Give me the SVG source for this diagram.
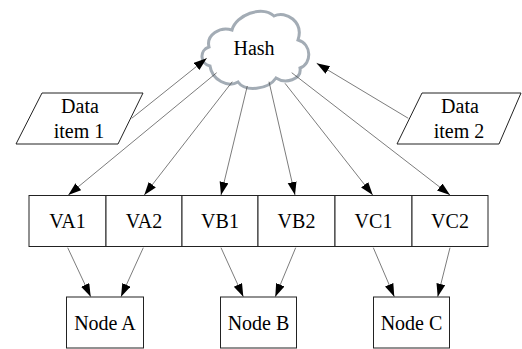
<svg xmlns="http://www.w3.org/2000/svg" width="522" height="349" viewBox="0 0 522 349" font-family="'Liberation Serif', 'DejaVu Serif', serif">
<defs>
<marker id="arr" markerUnits="userSpaceOnUse" markerWidth="14" markerHeight="10" refX="13" refY="4.5" orient="auto">
<path d="M0,0 L13,4.5 L0,9 z" fill="#000"/>
</marker>
<style>
.box{fill:#fff;stroke:#222;stroke-width:1}
.t{font-family:'Liberation Serif','DejaVu Serif',serif;font-size:20px;fill:#000;text-anchor:middle}
.e{fill:none;stroke:#444;stroke-width:0.7;marker-end:url(#arr)}
</style>
</defs>
<rect width="522" height="349" fill="#fff"/>
<g id="hash">
<path d="M210,66 C200,64 199,50 209,47 C206,35 220,26 232,30 C236,15 262,5 274,16 C286,10 304,22 298,40 C312,44 312,64 300,68 C302,80 285,84 276,78 C268,90 245,92 238,82 C228,88 212,80 210,66 Z" fill="#fff" stroke="#a3acb5" stroke-width="3"/>
<text class="t" x="254" y="55">Hash</text>
</g>
<g id="data1">
<polygon class="box" points="42,93 143,93 118,144 16,144"/>
<text class="t" x="80" y="113">Data</text>
<text class="t" x="79" y="138">item 1</text>
</g>
<g id="data2">
<polygon class="box" points="422,93 521,93 499,144 397,144"/>
<text class="t" x="460" y="113">Data</text>
<text class="t" x="459" y="138">item 2</text>
</g>
<g id="VA1"><rect class="box" x="29" y="195.5" width="77" height="51"/><text class="t" x="67.5" y="228">VA1</text></g>
<g id="VA2"><rect class="box" x="106" y="195.5" width="76" height="51"/><text class="t" x="144" y="228">VA2</text></g>
<g id="VB1"><rect class="box" x="182" y="195.5" width="76" height="51"/><text class="t" x="220" y="228">VB1</text></g>
<g id="VB2"><rect class="box" x="258" y="195.5" width="77" height="51"/><text class="t" x="296.5" y="228">VB2</text></g>
<g id="VC1"><rect class="box" x="335" y="195.5" width="77" height="51"/><text class="t" x="373.5" y="228">VC1</text></g>
<g id="VC2"><rect class="box" x="412" y="195.5" width="76" height="51"/><text class="t" x="450" y="228">VC2</text></g>
<g id="nodeA"><rect class="box" x="66.5" y="297" width="77" height="51"/><text class="t" x="105" y="330">Node A</text></g>
<g id="nodeB"><rect class="box" x="220.5" y="297" width="76" height="51"/><text class="t" x="258.5" y="330">Node B</text></g>
<g id="nodeC"><rect class="box" x="373.5" y="297" width="76" height="51"/><text class="t" x="411.5" y="330">Node C</text></g>
<g id="connectors">
<line class="e" x1="131.7" y1="118.3" x2="206.7" y2="58.3"/>
<line class="e" x1="408.3" y1="118.3" x2="316.7" y2="63.3"/>
<line class="e" x1="216.7" y1="72.7" x2="68.3" y2="195"/>
<line class="e" x1="232.3" y1="81.7" x2="144.3" y2="195"/>
<line class="e" x1="247.3" y1="86" x2="221" y2="195"/>
<line class="e" x1="269" y1="81.7" x2="295" y2="195"/>
<line class="e" x1="285" y1="83.3" x2="372.7" y2="195"/>
<line class="e" x1="291.7" y1="72.7" x2="450" y2="195"/>
<line class="e" x1="67.7" y1="247.7" x2="90.7" y2="296.7"/>
<line class="e" x1="143.3" y1="247.7" x2="121" y2="296.7"/>
<line class="e" x1="221" y1="247.7" x2="243.3" y2="296.7"/>
<line class="e" x1="295.7" y1="247.7" x2="275.3" y2="296.7"/>
<line class="e" x1="373.3" y1="247.7" x2="394.3" y2="296.7"/>
<line class="e" x1="450" y1="247.7" x2="437.7" y2="296.7"/>
</g>
</svg>
